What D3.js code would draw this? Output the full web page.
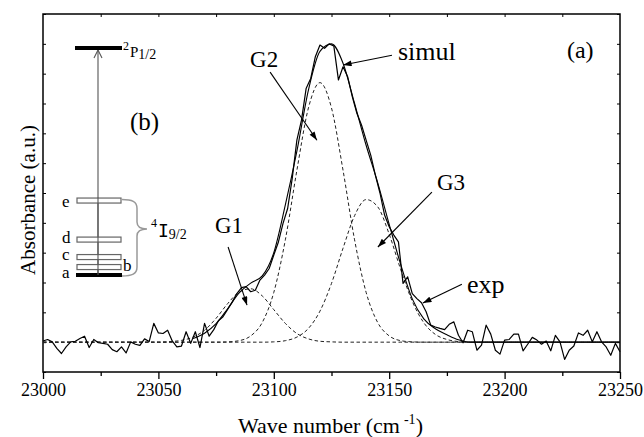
<!DOCTYPE html>
<html>
<head>
<meta charset="utf-8">
<script src="https://cdn.jsdelivr.net/npm/d3@7"></script>
<style>
  body { margin: 0; background: #fff; }
  svg text { font-family: "Liberation Serif", "Times New Roman", serif; }
</style>
</head>
<body>
<div id="chart"></div>
<script>
// measured spectrum, one point every 2 cm-1 from 23000
const expStart = 23000;
const expStep = 2;
const expValues = [
  0.004, 0.009, 0.001, -0.021, -0.038, -0.016, 0.001, 0.003, 0.012, 0.02,
  -0.018, 0.009, -0.002, -0.004, -0.007, -0.025, -0.032, -0.016, -0.036, 0.001,
  -0.007, -0.011, 0.011, 0.002, 0.063, 0.031, 0.029, 0.04, 0.004, -0.016,
  -0.013, 0.035, -0.004, 0.035, -0.018, 0.063, 0.02, 0.042, 0.072, 0.085,
  0.11, 0.135, 0.163, 0.183, 0.186, 0.169, 0.174, 0.208, 0.225, 0.247,
  0.292, 0.336, 0.398, 0.448, 0.55, 0.677, 0.744, 0.85, 0.884, 0.957,
  0.996, 0.985, 1.0, 0.993, 0.879, 0.923, 0.89, 0.823, 0.767, 0.728,
  0.677, 0.627, 0.56, 0.5, 0.426, 0.387, 0.359, 0.336, 0.197, 0.219,
  0.163, 0.146, 0.132, 0.102, 0.057, 0.051, 0.046, 0.042, 0.06, 0.068,
  0.023, -0.002, 0.04, 0.035, -0.027, -0.01, 0.057, 0.027, -0.027, -0.04,
  0.007, 0.009, 0.027, 0.027, -0.029, -0.007, 0.016, 0.007, -0.007, 0.004,
  -0.029, 0.023, 0.001, -0.058, -0.027, -0.013, 0.031, 0.023, 0.04, 0.001,
  0.035, 0.001, -0.016, -0.044, -0.004, -0.032
];

// simulated spectrum, every 5 cm-1 from 23065
const simulStart = 23065;
const simulStep = 5;
const simulValues = [
  0.012, 0.03, 0.062, 0.112, 0.165, 0.198, 0.222, 0.3, 0.46, 0.64,
  0.845, 0.975, 1.0, 0.935, 0.8, 0.66, 0.535, 0.395, 0.26, 0.145,
  0.078, 0.045, 0.025, 0.008, 0, 0, 0, 0, 0, 0,
  0, 0, 0, 0, 0, 0, 0, 0
];

// gaussian components, every 5 cm-1 from 23000
const gaussStart = 23000;
const gaussStep = 5;
const g1Values = [
  0, 0, 0, 0, 0, 0, 0, 0, 0, 0, 0,
  0.002, 0.006, 0.017, 0.04, 0.08, 0.129, 0.168, 0.179, 0.155, 0.109,
  0.063, 0.029, 0.011, 0.003, 0.001,
  0, 0, 0, 0, 0, 0, 0, 0, 0, 0, 0, 0, 0, 0, 0, 0, 0, 0, 0, 0, 0, 0, 0, 0, 0
];
const g2Values = [
  0, 0, 0, 0, 0, 0, 0, 0, 0, 0, 0, 0, 0, 0, 0, 0,
  0.001, 0.005, 0.021, 0.066, 0.167, 0.343, 0.576, 0.785, 0.87, 0.785,
  0.576, 0.343, 0.167, 0.066, 0.021, 0.005, 0.001,
  0, 0, 0, 0, 0, 0, 0, 0, 0, 0, 0, 0, 0, 0, 0, 0, 0, 0
];
const g3Values = [
  0, 0, 0, 0, 0, 0, 0, 0, 0, 0, 0, 0, 0, 0, 0, 0, 0, 0, 0, 0,
  0.001, 0.005, 0.017, 0.046, 0.104, 0.197, 0.315, 0.424, 0.478, 0.454,
  0.362, 0.243, 0.137, 0.065, 0.026, 0.009, 0.002,
  0, 0, 0, 0, 0, 0, 0, 0, 0, 0, 0, 0, 0, 0
];

const xTicks = [23000, 23050, 23100, 23150, 23200, 23250];

// labels with arrows: [text, textX, textY, fromX, fromY, toX, toY] in data units
const notes = [
  ["simul", 23153.8, 0.946, 23151.2, 0.962, 23130.0, 0.929],
  ["G2", 23089.7, 0.922, 23098.4, 0.905, 23118.7, 0.677],
  ["G3", 23170.7, 0.51, 23168.5, 0.503, 23145.1, 0.319],
  ["G1", 23074.5, 0.366, 23080.2, 0.319, 23088.4, 0.124],
  ["exp", 23183.7, 0.164, 23181.5, 0.194, 23164.6, 0.131]
];

// inset (b): crystal-field levels of 4I9/2, relative height
const levelNames = ["a", "b", "c", "d", "e"];
const levelHeights = [0, 0.035, 0.079, 0.156, 0.328];
const upperLevel = 1;

const width = 644, height = 437;
const margin = {top: 14, right: 24, bottom: 65, left: 43};

const svg = d3.select("#chart").append("svg")
  .attr("width", width)
  .attr("height", height);

const x = d3.scaleLinear()
  .domain([23000, 23250])
  .range([margin.left, width - margin.right]);

const y = d3.scaleLinear()
  .domain([-0.1, 1.1])
  .range([height - margin.bottom, margin.top]);

const defs = svg.append("defs");
defs.append("marker")
  .attr("id", "head")
  .attr("viewBox", "0 0 10 7")
  .attr("refX", 10)
  .attr("refY", 3.5)
  .attr("markerWidth", 10)
  .attr("markerHeight", 6)
  .attr("markerUnits", "userSpaceOnUse")
  .attr("orient", "auto")
  .append("path")
  .attr("d", "M0,0 L10,3.5 L0,7 Z")
  .attr("fill", "#000");

// axes
const yTicks = d3.range(-1, 12).map(d => d / 10);

svg.append("g")
  .attr("transform", `translate(0,${y.range()[0]})`)
  .call(d3.axisBottom(x).tickValues(xTicks).tickSize(7).tickPadding(4).tickFormat(d3.format("d")))
  .call(g => g.select(".domain").remove())
  .call(g => g.selectAll("text").attr("font-size", 18).attr("font-family", "Liberation Serif"))
  .call(g => g.selectAll("line").attr("stroke-width", 1.3));

svg.append("g")
  .attr("transform", `translate(0,${y.range()[0]})`)
  .call(d3.axisBottom(x).tickValues([23025, 23075, 23125, 23175, 23225]).tickSize(4).tickFormat(""))
  .call(g => g.select(".domain").remove())
  .call(g => g.selectAll("line").attr("stroke-width", 1.3));

svg.append("g")
  .attr("transform", `translate(0,${margin.top})`)
  .call(d3.axisTop(x).tickValues(d3.range(23025, 23250, 25)).tickSize(-3).tickFormat(""))
  .call(g => g.select(".domain").remove());

svg.append("g")
  .attr("transform", `translate(${margin.left},0)`)
  .call(d3.axisLeft(y).tickValues(yTicks).tickSize(-3).tickFormat(""))
  .call(g => g.select(".domain").remove());

svg.append("g")
  .attr("transform", `translate(${width - margin.right},0)`)
  .call(d3.axisRight(y).tickValues(yTicks).tickSize(-3).tickFormat(""))
  .call(g => g.select(".domain").remove());

svg.append("rect")
  .attr("x", margin.left)
  .attr("y", margin.top)
  .attr("width", width - margin.left - margin.right)
  .attr("height", height - margin.top - margin.bottom)
  .attr("fill", "none")
  .attr("stroke", "#000")
  .attr("stroke-width", 1.5);

// axis titles
svg.append("text")
  .attr("x", 238)
  .attr("y", 433)
  .attr("font-size", 22)
  .text("Wave number (cm")
  .call(t => t.append("tspan").attr("dx", 4).attr("dy", -9).attr("font-size", 14).text("-1"))
  .call(t => t.append("tspan").attr("dy", 9).text(")"));

svg.append("text")
  .attr("transform", "translate(35,200) rotate(-90)")
  .attr("text-anchor", "middle")
  .attr("font-size", 21)
  .text("Absorbance (a.u.)");

// curves
const dashed = d3.line()
  .x((d, i) => x(gaussStart + i * gaussStep))
  .y(d => y(d))
  .curve(d3.curveMonotoneX);

[g1Values, g2Values, g3Values].forEach(vals => {
  svg.append("path")
    .datum(vals)
    .attr("d", dashed)
    .attr("fill", "none")
    .attr("stroke", "#222")
    .attr("stroke-width", 1)
    .attr("stroke-dasharray", "3.5,2.5");
});

svg.append("path")
  .datum(simulValues)
  .attr("d", d3.line()
    .x((d, i) => x(simulStart + i * simulStep))
    .y(d => y(d))
    .curve(d3.curveMonotoneX))
  .attr("fill", "none")
  .attr("stroke", "#000")
  .attr("stroke-width", 1.1);

svg.append("path")
  .datum(expValues)
  .attr("d", d3.line()
    .x((d, i) => x(expStart + i * expStep))
    .y(d => y(d)))
  .attr("fill", "none")
  .attr("stroke", "#000")
  .attr("stroke-width", 1.2)
  .attr("stroke-linejoin", "round");

// annotations
notes.forEach(n => {
  svg.append("line")
    .attr("x1", x(n[3])).attr("y1", y(n[4]))
    .attr("x2", x(n[5])).attr("y2", y(n[6]))
    .attr("stroke", "#000")
    .attr("stroke-width", 1.1)
    .attr("marker-end", "url(#head)");
  svg.append("text")
    .attr("x", x(n[1]))
    .attr("y", y(n[2]))
    .attr("font-size", n[0].startsWith("G") ? 23 : 26)
    .text(n[0]);
});

svg.append("text")
  .attr("x", x(23227))
  .attr("y", y(0.952))
  .attr("font-size", 24)
  .text("(a)");

// inset (b)
const inset = svg.append("g");
const ly = d3.scaleLinear().domain([0, 1]).range([275, 48]);
const lx0 = 77, lx1 = 121;
const labelShift = {a: 3, b: 4, c: 3, d: 3, e: 6};

inset.append("line")
  .attr("x1", 98).attr("x2", 98)
  .attr("y1", ly(0)).attr("y2", ly(upperLevel) + 2)
  .attr("stroke", "#555")
  .attr("stroke-width", 1.1);
inset.append("path")
  .attr("d", `M94,${ly(upperLevel) + 10} L98,${ly(upperLevel) + 2} L102,${ly(upperLevel) + 10}`)
  .attr("fill", "none")
  .attr("stroke", "#555")
  .attr("stroke-width", 1.1);

inset.append("line")
  .attr("x1", lx0 - 2).attr("x2", lx1 + 1)
  .attr("y1", ly(upperLevel)).attr("y2", ly(upperLevel))
  .attr("stroke", "#000")
  .attr("stroke-width", 4);

levelNames.forEach((name, i) => {
  const yy = ly(levelHeights[i]);
  if (i === 0) {
    inset.append("line")
      .attr("x1", lx0 - 1).attr("x2", lx1 + 1)
      .attr("y1", yy).attr("y2", yy)
      .attr("stroke", "#000")
      .attr("stroke-width", 4);
  } else {
    inset.append("rect")
      .attr("x", lx0).attr("y", yy - 2.5)
      .attr("width", lx1 - lx0).attr("height", 5)
      .attr("fill", "#fff")
      .attr("stroke", "#666")
      .attr("stroke-width", 1.2);
  }
  inset.append("text")
    .attr("x", name === "b" ? 123 : 62)
    .attr("y", yy + labelShift[name])
    .attr("font-size", 17)
    .text(name);
});

// vertical line through the levels drawn again on top of the boxes
inset.append("line")
  .attr("x1", 98).attr("x2", 98)
  .attr("y1", ly(0)).attr("y2", ly(levelHeights[4]) - 3)
  .attr("stroke", "#555")
  .attr("stroke-width", 1.1);

const braceTop = ly(levelHeights[4]) - 1, braceBot = ly(0) + 1, braceMid = 229;
inset.append("path")
  .attr("d", `M122,${braceTop} C132,${braceTop} 137,${braceTop + 2} 137,${braceTop + 9} L137,${braceMid - 7} C137,${braceMid - 2} 141,${braceMid} 147,${braceMid}
    C141,${braceMid} 137,${braceMid + 2} 137,${braceMid + 7} L137,${braceBot - 9} C137,${braceBot - 2} 132,${braceBot} 122,${braceBot}`)
  .attr("fill", "none")
  .attr("stroke", "#999")
  .attr("stroke-width", 1.5);

inset.append("text")
  .attr("x", 151).attr("y", 237)
  .attr("font-family", "DejaVu Sans")
  .call(t => t.append("tspan").attr("font-size", 12).attr("dy", -10).text("4"))
  .call(t => t.append("tspan").attr("font-size", 18).attr("dy", 10).attr("dx", 1)
    .attr("font-family", "DejaVu Sans Mono").text("I"))
  .call(t => t.append("tspan").attr("font-size", 14).attr("dy", 2).text("9/2"));

inset.append("text")
  .attr("x", 123).attr("y", 57)
  .attr("font-family", "DejaVu Sans")
  .call(t => t.append("tspan").attr("font-size", 12).attr("dy", -7).text("2"))
  .call(t => t.append("tspan").attr("font-size", 15).attr("dy", 7).attr("dx", 1).text("P"))
  .call(t => t.append("tspan").attr("font-size", 14).attr("dy", 2).text("1/2"));

inset.append("text")
  .attr("x", 130).attr("y", 130)
  .attr("font-size", 25)
  .text("(b)");
</script>
</body>
</html>
